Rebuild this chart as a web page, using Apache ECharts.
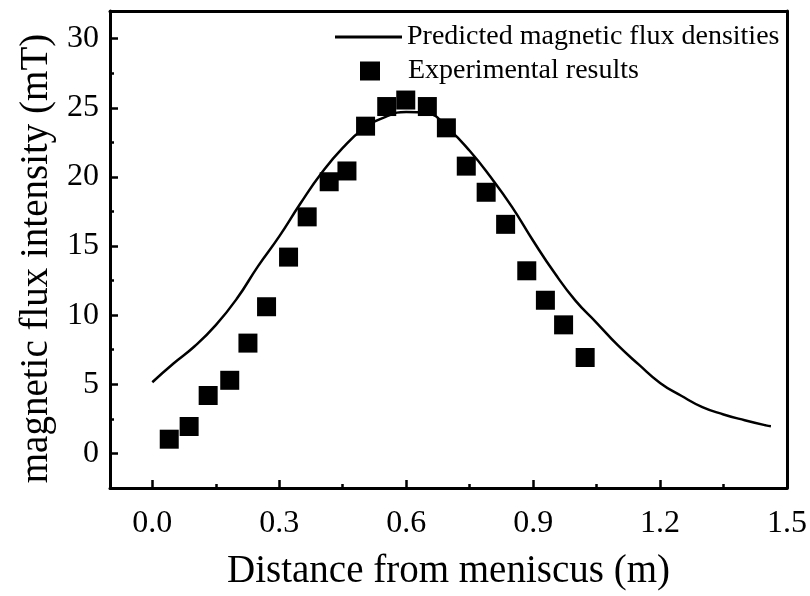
<!DOCTYPE html>
<html><head><meta charset="utf-8">
<script src="https://cdn.jsdelivr.net/npm/echarts@6/dist/echarts.min.js"></script>
<style>html,body{margin:0;padding:0;background:#fff}#c{width:810px;height:596px}</style>
</head><body><div id="c"></div>
<script>
const xTickValues = [0, 0.3, 0.6, 0.9, 1.2, 1.5];
const xMinorTicks = [0.15, 0.45, 0.75, 1.05, 1.35];
const yTickValues = [0, 5, 10, 15, 20, 25, 30];
const yMinorTicks = [2.5, 7.5, 12.5, 17.5, 22.5, 27.5];

const seriesNames = ['Predicted magnetic flux densities', 'Experimental results'];

const predX = [0.00, 0.05, 0.10, 0.15, 0.20, 0.25, 0.30, 0.35, 0.40, 0.45, 0.50, 0.55, 0.60, 0.65, 0.70, 0.75, 0.80, 0.85, 0.90, 0.95, 1.00, 1.05, 1.10, 1.15, 1.20, 1.25, 1.30, 1.35, 1.40, 1.45, 1.462];
const predY = [5.15, 6.5, 7.75, 9.28, 11.2, 13.55, 15.7, 18.08, 20.28, 22.1, 23.5, 24.33, 24.7, 24.6, 23.47, 21.89, 19.97, 17.83, 15.38, 13.08, 11.05, 9.45, 7.83, 6.42, 5.1, 4.17, 3.35, 2.82, 2.4, 2.03, 1.97];

const expX = [0.040, 0.087, 0.132, 0.183, 0.226, 0.270, 0.322, 0.366, 0.418, 0.460, 0.504, 0.554, 0.599, 0.650, 0.695, 0.742, 0.789, 0.835, 0.885, 0.929, 0.972, 1.023];
const expY = [1.03, 1.95, 4.19, 5.29, 7.98, 10.61, 14.20, 17.11, 19.65, 20.43, 23.67, 25.09, 25.56, 25.09, 23.55, 20.78, 18.89, 16.57, 13.21, 11.08, 9.30, 6.94];

const FONT = 'Liberation Serif';
const chart = echarts.init(document.getElementById('c'), null, {renderer: 'canvas'});

function blackLine() { return {show: true, onZero: false, lineStyle: {color: '#000', width: 3}}; }
function ticks(vals, len) { return {show: true, inside: true, length: len, lineStyle: {color: '#000', width: 2.5}, customValues: vals}; }
function xAx(extra) {
  return Object.assign({type: 'value', min: -0.1, max: 1.5, position: 'bottom',
    splitLine: {show: false}, axisLine: {show: false, onZero: false}, axisTick: {show: false}, axisLabel: {show: false}}, extra);
}
function yAx(extra) {
  return Object.assign({type: 'value', min: -2.5, max: 32, position: 'left',
    splitLine: {show: false}, axisLine: {show: false, onZero: false}, axisTick: {show: false}, axisLabel: {show: false}}, extra);
}

chart.setOption({
  animation: false,
  backgroundColor: '#fff',
  grid: {left: 110, right: 22, top: 11, bottom: 99},
  legend: [
    {
      left: 335, top: 23, padding: 0,
      itemWidth: 67, itemHeight: 3, selectedMode: false, icon: 'rect',
      data: [seriesNames[0]],
      textStyle: {fontFamily: FONT, fontSize: 28, color: '#000'}
    },
    {
      left: 360, top: 57, padding: 0,
      itemWidth: 20, itemHeight: 19, selectedMode: false, icon: 'rect',
      data: [seriesNames[1]],
      textStyle: {fontFamily: FONT, fontSize: 28, color: '#000', padding: [0, 0, 0, 23]}
    }
  ],
  xAxis: [
    xAx({
      name: 'Distance from meniscus (m)', nameLocation: 'middle', nameGap: 64,
      nameTextStyle: {fontFamily: FONT, fontSize: 39, color: '#000'},
      axisLine: blackLine(),
      axisLabel: {show: true, margin: 20, fontFamily: FONT, fontSize: 32, color: '#000', customValues: xTickValues, formatter: v => v.toFixed(1)}
    }),
    xAx({axisTick: ticks(xTickValues, 8)}),
    xAx({axisTick: ticks(xMinorTicks, 4)}),
    xAx({position: 'top', axisLine: blackLine()})
  ],
  yAxis: [
    yAx({
      name: 'magnetic flux intensity (mT)', nameLocation: 'middle', nameGap: 41,
      nameTextStyle: {fontFamily: FONT, fontSize: 39, color: '#000', padding: [0, 18, 0, 0]},
      axisLine: blackLine(),
      axisLabel: {show: true, margin: 11, fontFamily: FONT, fontSize: 32, color: '#000', customValues: yTickValues, formatter: v => String(v)}
    }),
    yAx({axisTick: ticks(yTickValues, 8)}),
    yAx({axisTick: ticks(yMinorTicks, 4)}),
    yAx({position: 'right', axisLine: blackLine()})
  ],
  series: [
    {
      name: seriesNames[0], type: 'line', xAxisIndex: 0, yAxisIndex: 0,
      data: predX.map((x, i) => [x, predY[i]]),
      smooth: 0.5, showSymbol: false, symbol: 'none',
      lineStyle: {color: '#000', width: 2.5}, itemStyle: {color: '#000'}, z: 2
    },
    {
      name: seriesNames[1], type: 'scatter', xAxisIndex: 0, yAxisIndex: 0,
      data: expX.map((x, i) => [x, expY[i]]),
      symbol: 'rect', symbolSize: 19,
      itemStyle: {color: '#000', opacity: 1}, z: 3
    }
  ]
});
</script></body></html>
